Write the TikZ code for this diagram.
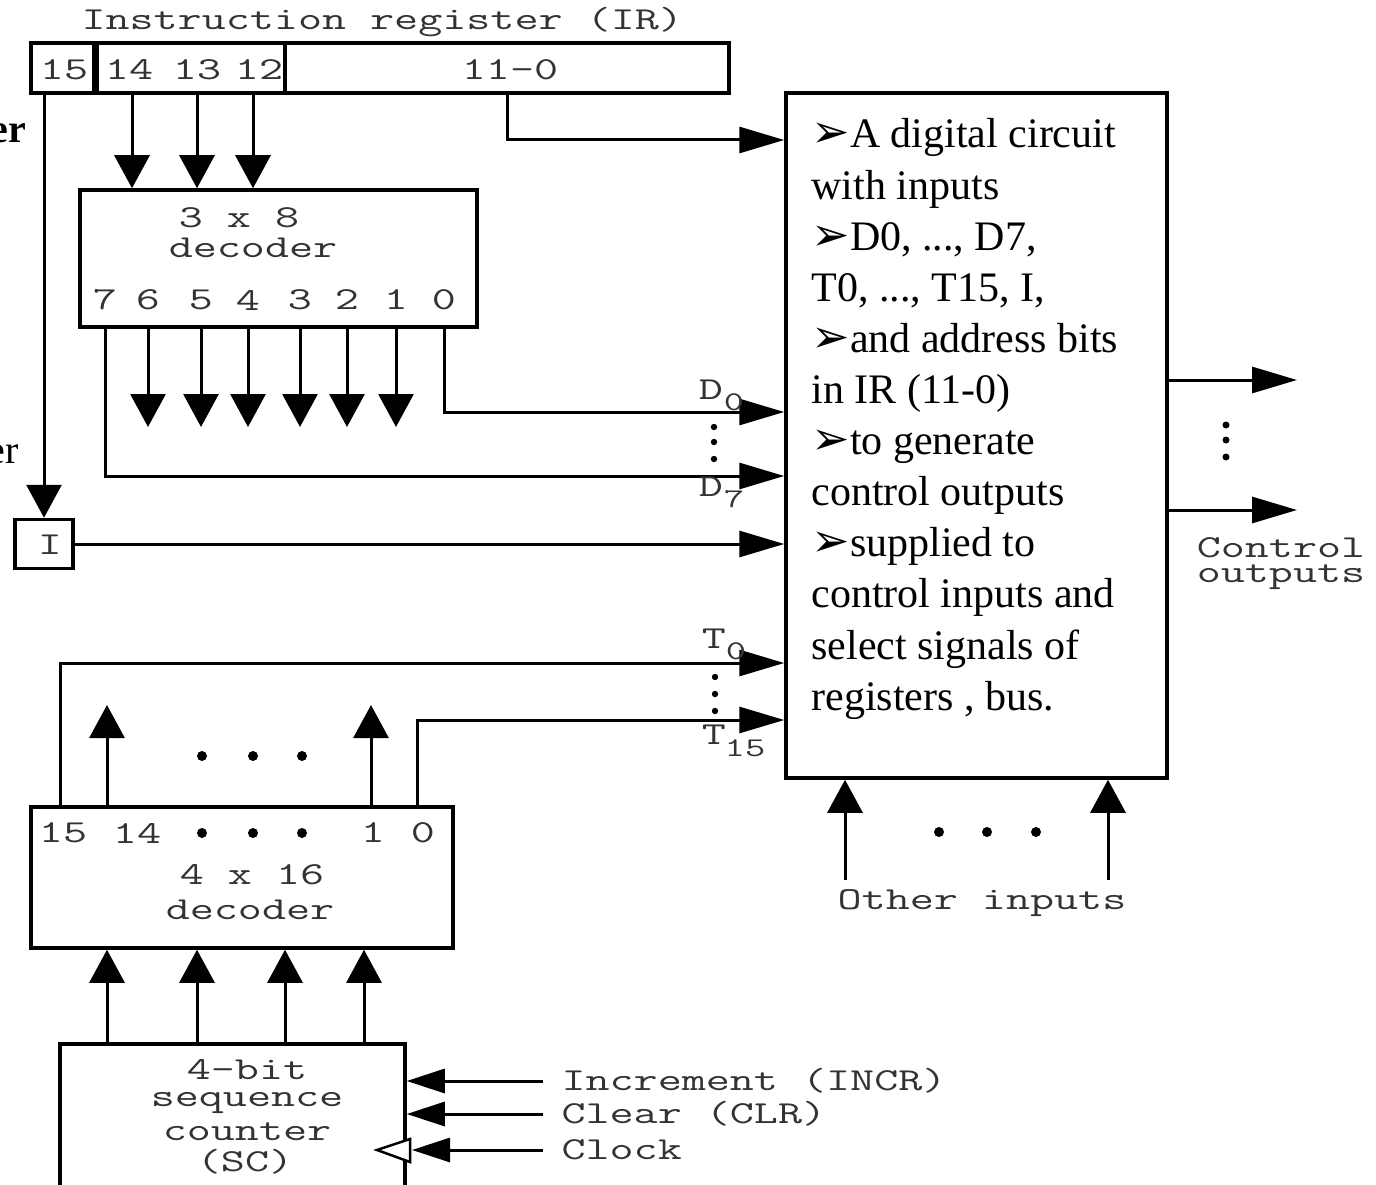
\documentclass[tikz,border=0pt]{standalone}
\usepackage{fontspec}
\setmainfont{Liberation Serif}
\newfontfamily\monof[FakeStretch=1.46]{Latin Modern Mono}
\newfontfamily\dejavu{DejaVu Sans}
\usetikzlibrary{arrows.meta}
\newcommand\bul{{\dejavu\fontsize{46}{46}\selectfont ➢}}
\begin{document}
\begin{tikzpicture}[x=1pt,y=-1pt,line width=3pt,
  box/.style={draw,line width=3.5pt,inner sep=0pt,rectangle},
  mono/.style={font=\monof\fontsize{32}{36}\selectfont,text=black!80,inner sep=0pt},
  sub/.style={font=\monof\fontsize{27}{30}\selectfont,text=black!80,inner sep=0pt},
  serif/.style={font=\fontsize{42}{51}\selectfont,anchor=base west,inner sep=0pt},
  vtip/.style={-{Triangle[length=33pt,width=35pt]}},
  htip/.style={-{Triangle[length=45pt,width=26pt]}},
  sctip/.style={-{Triangle[length=38pt,width=24pt]}}]
\useasboundingbox (0,0) rectangle (1376,1185);

% ---------- Instruction register ----------
\node[mono,anchor=west] (irtitle) at (80,22) {Instruction register (IR)};
\node[box,minimum width=63,minimum height=50] (ir15) at (62.5,68) {};
\node[box,minimum width=191,minimum height=50] (irop) at (189.5,68) {};
\node[box,minimum width=444,minimum height=50] (iraddr) at (507,68) {};
\draw[line width=7pt] (ir15.north east) -- (ir15.south east);
\node[mono] (t15) at (64,70) {15};
\node[mono] (t14) at (129,70) {14};
\node[mono] (t13) at (197,70) {13};
\node[mono] (t12) at (259,70) {12};
\node[mono] (t110) at (510,70) {11-0};

% left cut-off texts
\node[font=\bfseries\fontsize{40}{40}\selectfont,anchor=base east,inner sep=0pt] (er1) at (28,143) {er};
\node[font=\fontsize{40}{40}\selectfont,anchor=base east,inner sep=0pt] (er2) at (20,463) {er};

% ---------- 3x8 decoder ----------
\node[box,minimum width=397,minimum height=137] (dec38) at (278.5,258.5) {};
\node[mono] (d38a) at (239,218) {3 x 8};
\node[mono] (d38b) at (253,248) {decoder};
\foreach \n/\x in {7/105,6/148,5/201,4/248,3/300,2/347,1/396,0/444}
  \node[mono] (o\n) at (\x,300) {\n};

\foreach \x/\n in {132/14,197/13,253/12}
  \coordinate (pin\n) at (\x,0);
\foreach \n in {14,13,12}
  \draw[vtip] (pin\n |- irop.south) -- (pin\n |- dec38.north);

% ---------- main box ----------
\node[box,minimum width=381,minimum height=685] (main) at (976.5,435.5) {};
\node[serif] (l1) at (810,148) {\bul A digital circuit};
\node[serif] (l2) at (810,199.1) {with inputs};
\node[serif] (l3) at (810,250.2) {\bul D0, ..., D7,};
\node[serif] (l4) at (810,301.3) {T0, ..., T15, I,};
\node[serif] (l5) at (810,352.4) {\bul and address bits};
\node[serif] (l6) at (810,403.5) {in IR (11-0)};
\node[serif] (l7) at (810,454.6) {\bul to generate};
\node[serif] (l8) at (810,505.7) {control outputs};
\node[serif] (l9) at (810,556.8) {\bul supplied to};
\node[serif] (l10) at (810,607.9) {control inputs and};
\node[serif] (l11) at (810,659) {select signals of};
\node[serif] (l12) at (810,710.1) {registers , bus.};

% IR address to main
\draw[htip] (iraddr.south) |- (main.west |- 0,140);

% I flip-flop
\node[box,minimum width=58,minimum height=49] (ibox) at (44,544) {};
\node[mono] (itext) at (50,545) {I};
\draw[vtip] (ibox.north |- ir15.south) -- (ibox.north);
\draw[htip] (ibox.east) -- (main.west |- ibox.east);

% decoder outputs
\foreach \n in {6,5,4,3,2,1}{
  \coordinate (f\n) at (o\n |- 0,427);
  \draw[vtip] (o\n |- dec38.south) -- (f\n);
}
\draw[htip] (o0 |- dec38.south) |- (main.west |- 0,412);
\draw[htip] (o7 |- dec38.south) |- (main.west |- 0,476);
\node[mono] (dD0) at (711,390) {D};
\node[sub] (dD0s) at (734,402) {0};
\node[mono] (dD7) at (711,487) {D};
\node[sub] (dD7s) at (734,499) {7};
\foreach \y in {427,442,459} \fill (714,\y) circle (3.2);

% ---------- 4x16 decoder ----------
\node[box,minimum width=422,minimum height=141] (dec416) at (242,877.5) {};
\node[mono] (e15) at (63,833) {15};
\node[mono] (e14) at (137,833) {14};
\foreach \x in {202,253,302} \fill (\x,833) circle (5);
\node[mono] (e1) at (373,833) {1};
\node[mono] (e0) at (423,833) {0};
\node[mono] (d416a) at (252,875) {4 x 16};
\node[mono] (d416b) at (250,910) {decoder};

\coordinate (q15) at (60,0);
\coordinate (q14) at (107,0);
\coordinate (q1) at (371,0);
\coordinate (q0) at (417,0);
\coordinate (u14) at (107,705);
\coordinate (u1) at (371,705);
\draw[vtip] (q14 |- dec416.north) -- (u14);
\draw[vtip] (q1 |- dec416.north) -- (u1);
\foreach \x in {202,253,302} \fill (\x,756) circle (5);
\draw[htip] (q15 |- dec416.north) |- (main.west |- 0,663);
\draw[htip] (q0 |- dec416.north) |- (main.west |- 0,720);
\node[mono] (tT0) at (714,639) {T};
\node[sub] (tT0s) at (736,651) {0};
\node[mono] (tT15) at (714,735) {T};
\node[sub] (tT15s) at (745,748) {15};
\foreach \y in {677,694,711} \fill (715,\y) circle (3.2);

% ---------- sequence counter ----------
\node[box,minimum width=345,minimum height=220] (seqc) at (232.5,1154) {};
\node[mono] (sca) at (247,1070) {4-bit};
\node[mono] (scb) at (247,1103) {sequence};
\node[mono] (scc) at (247,1132) {counter};
\node[mono] (scd) at (245,1162) {(SC)};
\foreach \x/\n in {107/a,197/b,285/c,364/d}{
  \coordinate (scpin\n) at (\x,0);
  \draw[vtip] (scpin\n |- seqc.north) -- (scpin\n |- dec416.south);
}
\coordinate (cin) at (543,1081);
\coordinate (ccl) at (543,1114);
\coordinate (cck) at (543,1150);
\draw[fill=white,line width=2.5pt] (410,1139) -- (377,1150) -- (410,1162) -- cycle;
\draw[sctip] (cin) -- (seqc.east |- cin);
\draw[sctip] (ccl) -- (seqc.east |- ccl);
\draw[sctip] (cck) -- (412,1150);
\node[mono,anchor=west] (lin) at (560,1081) {Increment (INCR)};
\node[mono,anchor=west] (lcl) at (560,1114) {Clear (CLR)};
\node[mono,anchor=west] (lck) at (560,1150) {Clock};

% ---------- other inputs ----------
\coordinate (oi1) at (845,880);
\coordinate (oi2) at (1108,880);
\draw[vtip] (oi1) -- (oi1 |- main.south);
\draw[vtip] (oi2) -- (oi2 |- main.south);
\foreach \x in {939,987,1036} \fill (\x,832) circle (5);
\node[mono] (lother) at (982,903) {Other inputs};

% ---------- control outputs ----------
\coordinate (co1) at (1297,380);
\coordinate (co2) at (1297,510);
\draw[htip] (main.east |- co1) -- (co1);
\draw[htip] (main.east |- co2) -- (co2);
\foreach \y in {425,440,457} \fill (1226,\y) circle (3.5);
\node[mono] (lctl) at (1281,548) {Control};
\node[mono] (lout) at (1281,577) {outputs};
\end{tikzpicture}
\end{document}
